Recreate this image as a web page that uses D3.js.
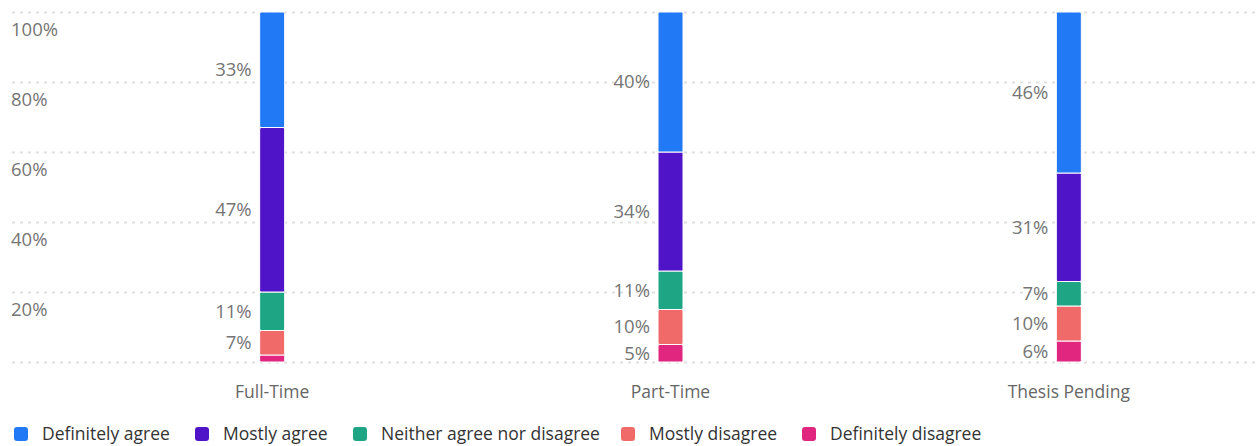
<!DOCTYPE html>
<html>
<head>
<meta charset="utf-8">
<script src="https://cdn.jsdelivr.net/npm/d3@7"></script>
<style>
  body { margin: 0; background: #fff; }
  svg { display: block; font-family: "Open Sans", sans-serif; }
</style>
</head>
<body>
<div id="chart"></div>
<script>
// data
const categories = ["Full-Time", "Part-Time", "Thesis Pending"];
const answers = ["Definitely agree", "Mostly agree", "Neither agree nor disagree", "Mostly disagree", "Definitely disagree"];
const definitelyAgree = [33, 40, 46];
const mostlyAgree = [47, 34, 31];
const neither = [11, 11, 7];
const mostlyDisagree = [7, 10, 10];
const definitelyDisagree = [2, 5, 6];
const yTicks = [20, 40, 60, 80, 100];
const colors = ["#2279f5", "#5014c8", "#1ea584", "#f06a6a", "#e0267f"];

const width = 1260, height = 446;
const svg = d3.select('#chart').append('svg')
  .attr('width', width)
  .attr('height', height);

// build rows for the stack
const seriesValues = [definitelyAgree, mostlyAgree, neither, mostlyDisagree, definitelyDisagree];
const rows = categories.map((c, i) => {
  const r = { cat: c };
  answers.forEach((a, j) => r[a] = seriesValues[j][i]);
  return r;
});
// stack from bottom: definitely disagree first
const stack = d3.stack().keys(answers.slice().reverse());
const stacked = stack(rows);

const x = d3.scaleBand().domain(categories).range([73, 1268]);
const y = d3.scaleLinear().domain([0, 100]).range([362, 12]);
const color = d3.scaleOrdinal().domain(answers).range(colors);
const barW = 25;

// gridlines
svg.append('g')
  .selectAll('line')
  .data([0].concat(yTicks))
  .enter()
  .append('line')
  .attr('x1', 12)
  .attr('x2', 1260)
  .attr('y1', d => y(d) + 0.5)
  .attr('y2', d => y(d) + 0.5)
  .style('stroke', '#e0e0e0')
  .style('stroke-width', '2px')
  .style('stroke-dasharray', '3,5');

// y tick labels (sit under their gridline)
svg.append('g')
  .selectAll('text')
  .data(yTicks)
  .enter()
  .append('text')
  .attr('x', 11)
  .attr('y', d => y(d) + 24)
  .style('font-size', '18.5px')
  .style('fill', '#757575')
  .text(d => d + '%');

// bars
const layer = svg.append('g')
  .selectAll('g')
  .data(stacked)
  .enter()
  .append('g')
  .style('fill', d => color(d.key));

layer.selectAll('rect')
  .data(d => d)
  .enter()
  .append('rect')
  .attr('x', d => x(d.data.cat) + x.bandwidth() / 2 - barW / 2)
  .attr('y', d => y(d[1]))
  .attr('width', barW)
  .attr('height', d => y(d[0]) - y(d[1]))
  .attr('rx', 1.5)
  .style('stroke', '#fff')
  .style('stroke-width', '1px');

// value labels left of each segment
layer.selectAll('text')
  .data(d => d)
  .enter()
  .filter(d => y(d[0]) - y(d[1]) > 14)
  .append('text')
  .attr('x', d => x(d.data.cat) + x.bandwidth() / 2 - barW / 2 - 8)
  .attr('y', d => (y(d[0]) + y(d[1])) / 2)
  .attr('dy', '.35em')
  .attr('text-anchor', 'end')
  .style('font-size', '18.5px')
  .style('fill', '#757575')
  .text(d => Math.round(d[1] - d[0]) + '%');

// category labels
svg.append('g')
  .selectAll('text')
  .data(categories)
  .enter()
  .append('text')
  .attr('x', d => x(d) + x.bandwidth() / 2)
  .attr('y', 398)
  .attr('text-anchor', 'middle')
  .style('font-size', '17.5px')
  .style('fill', '#666')
  .text(d => d);

// legend
const legendX = [14, 195, 353, 621, 802];
const legend = svg.append('g')
  .selectAll('g')
  .data(answers)
  .enter()
  .append('g')
  .attr('transform', (d, i) => `translate(${legendX[i]},427)`);
legend.append('rect')
  .attr('width', 14)
  .attr('height', 14)
  .attr('rx', 3)
  .style('fill', d => color(d));
legend.append('text')
  .attr('x', 28)
  .attr('y', 7)
  .attr('dy', '.36em')
  .style('font-size', '17.5px')
  .style('fill', '#333')
  .text(d => d);
</script>
</body>
</html>
